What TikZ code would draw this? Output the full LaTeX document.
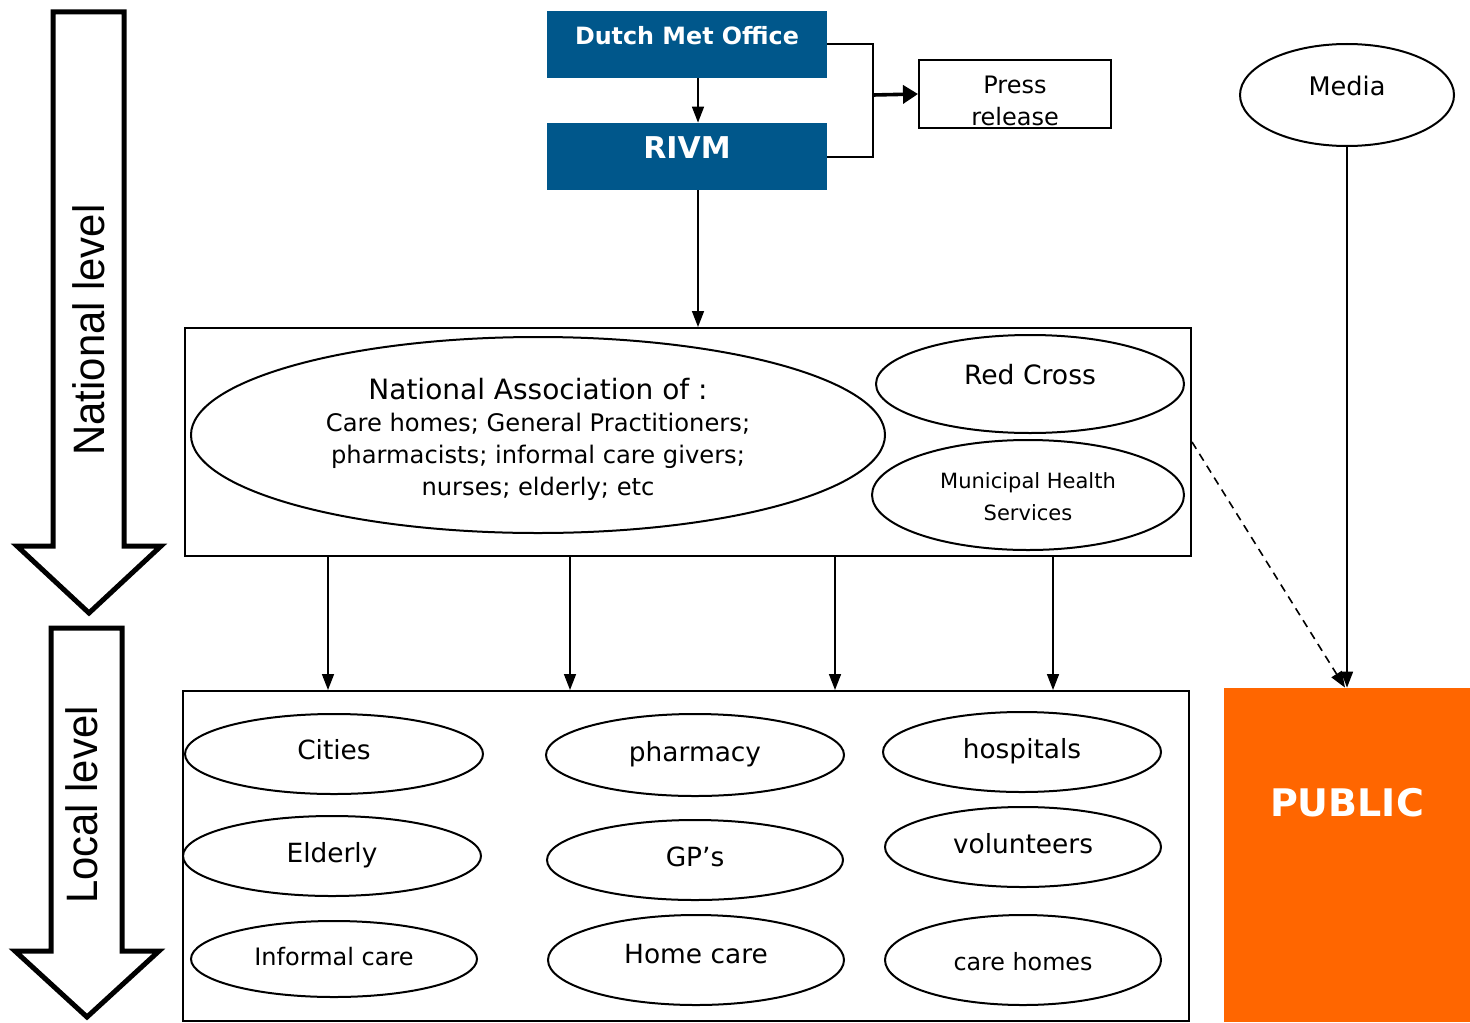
\documentclass[tikz,border=0pt]{standalone}
\usepackage{fontspec}
\usepackage{graphicx}
\setmainfont{DejaVu Sans}
\newfontfamily\lvlfont{Liberation Sans}
\usetikzlibrary{shapes.geometric,arrows.meta}
\definecolor{metblue}{RGB}{0,87,139}
\definecolor{pubor}{RGB}{255,102,0}
\newcommand\txtup[2]{\raisebox{#1}[\height][\depth]{#2}}
\begin{document}
\begin{tikzpicture}[x=0.5pt,y=-0.5pt,
  ell/.style={draw, ellipse, line width=1pt, inner sep=0pt},
  bluebox/.style={fill=metblue, text=white, minimum width=140pt, minimum height=33.5pt, inner sep=0pt},
  frame/.style={draw, line width=1pt, inner sep=0pt},
  arr/.style={-{Triangle[length=8pt,width=6pt]}, line width=0.8pt},
  bigarrow/.style={draw, line width=2.5pt, line join=miter, miter limit=10},
  lvl/.style={rotate=90, font=\lvlfont\fontsize{22}{24}\selectfont},
  loctext/.style={font=\fontsize{13.2}{16}\selectfont}
]
\useasboundingbox (0,0) rectangle (1470,1022);

% level arrows
\draw[bigarrow] (53,12) -- (124,12) -- (124,546) -- (161,546) -- (89,613) -- (17,546) -- (53,546) -- cycle;
\node[lvl] (natlvl) at (89,330) {\scalebox{0.95}[1]{National level}};
\draw[bigarrow] (51,628) -- (122,628) -- (122,951) -- (159,951) -- (87,1017) -- (15,951) -- (51,951) -- cycle;
\node[lvl] (loclvl) at (82,805) {\scalebox{0.95}[1]{Local level}};

% top boxes
\node[bluebox, font=\bfseries\fontsize{11.9}{14}\selectfont] (dmo) at (687,44.5) {\txtup{4.5pt}{Dutch Met Office}};
\node[bluebox, font=\bfseries\fontsize{15}{18}\selectfont] (rivm) at (687,156.5) {\txtup{4.5pt}{RIVM}};
\node[frame, minimum width=96pt, minimum height=34pt,
  label={[name=presstxt, yshift=-3.5pt, align=center, font=\fontsize{12}{16}\selectfont]center:{Press\\release}}] (press) at (1015,94) {};
\node[ell, minimum width=107pt, minimum height=51pt, font=\fontsize{12.8}{16}\selectfont] (media) at (1347,95) {\txtup{4.5pt}{Media}};

% national box
\node[frame, minimum width=503pt, minimum height=114pt] (nat) at (688,442) {};
\node[ell, minimum width=347pt, minimum height=98pt,
  label={[name=assoctxt, yshift=-2pt, align=center, font=\fontsize{12.1}{16}\selectfont]center:{{\fontsize{14}{16}\selectfont National Association of :}\\Care homes; General Practitioners;\\pharmacists; informal care givers;\\nurses; elderly; etc}}] (assoc) at (538,435) {};
\node[ell, minimum width=154pt, minimum height=49pt, font=\fontsize{13.3}{16}\selectfont] (redcross) at (1030,384) {\txtup{4.5pt}{Red Cross}};
\node[ell, minimum width=156pt, minimum height=55pt,
  label={[name=mhstxt, yshift=-1pt, align=center, font=\fontsize{10.5}{16}\selectfont]center:{Municipal Health\\Services}}] (mhs) at (1028,495) {};

% local box
\node[frame, minimum width=503pt, minimum height=165pt] (loc) at (686,856) {};
\node[ell, loctext, minimum width=149pt, minimum height=40pt] (cities) at (334,754) {\txtup{2pt}{Cities}};
\node[ell, loctext, minimum width=149pt, minimum height=41pt] (pharm) at (695,755) {\txtup{0.5pt}{pharmacy}};
\node[ell, loctext, minimum width=139pt, minimum height=40pt] (hosp) at (1022,752) {\txtup{0.5pt}{hospitals}};
\node[ell, loctext, minimum width=149pt, minimum height=40pt] (elderly) at (332,856) {\txtup{0.5pt}{Elderly}};
\node[ell, loctext, minimum width=148pt, minimum height=40pt] (gps) at (695,860) {\txtup{1.5pt}{GP’s}};
\node[ell, loctext, minimum width=138pt, minimum height=40pt] (vol) at (1023,847) {\txtup{1.5pt}{volunteers}};
\node[ell, minimum width=143pt, minimum height=38pt, font=\fontsize{12}{16}\selectfont] (infcare) at (334,959) {\txtup{1pt}{Informal care}};
\node[ell, loctext, minimum width=148pt, minimum height=45pt] (homecare) at (696,960) {\txtup{3pt}{Home care}};
\node[ell, minimum width=138pt, minimum height=45pt, font=\fontsize{11.9}{16}\selectfont] (carehomes) at (1023,960) {\txtup{-1pt}{care homes}};

% public
\node[fill=pubor, minimum width=123pt, minimum height=167pt, inner sep=0pt, text=white, font=\bfseries\fontsize{19}{22}\selectfont] (public) at (1347,855) {\txtup{26pt}{PUBLIC}};

% connectors
\draw[arr] ([xshift=5.5pt]dmo.south) -- ([xshift=5.5pt]rivm.north);
\coordinate (brk) at (873,95);
\draw[line width=1pt] (dmo.east) -| (brk) |- (rivm.east);
\draw[-{Triangle[length=7.5pt,width=9pt]}, line width=1.8pt] (brk) -- (press.west);
\coordinate (r1) at ([xshift=5.5pt]rivm.south);
\draw[arr] (r1) -- (r1 |- nat.north);
\foreach \x in {328,570,835,1053} \draw[arr] (\x,0 |- nat.south) -- (\x,0 |- loc.north);
\draw[arr] (media.south) -- (public.north);
\draw[arr, dash pattern=on 4pt off 3pt] (nat.east) -- ([xshift=-1pt]public.north);
\end{tikzpicture}
\end{document}
